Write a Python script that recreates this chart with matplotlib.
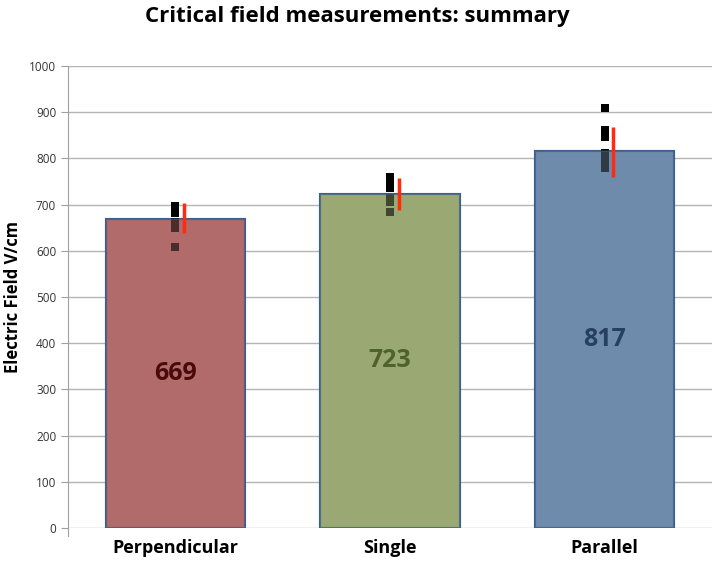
import numpy as np
import matplotlib.pyplot as plt

# values
categories = ["Perpendicular", "Single", "Parallel"]
means = [669, 723, 817]
err_lo = [638, 688, 760]
err_hi = [703, 758, 868]
pts_perp = [697, 682, 662, 649, 608]
pts_single = [760, 749, 736, 714, 706, 684]
pts_parallel = [909, 861, 846, 812, 801, 790, 779]
points = [pts_perp, pts_single, pts_parallel]

bar_colors = ["#B06B6A", "#9AA973", "#6E8BAB"]
label_colors = ["#4A0A0A", "#4F6228", "#254061"]
edge_color = "#3C5E8C"

plt.rcParams['font.family'] = ['Open Sans', 'DejaVu Sans']

fig = plt.figure(figsize=(7.14, 5.75), dpi=100)
ax = fig.add_axes([68 / 714, 47 / 575, 644 / 714, 462 / 575])

x = np.arange(len(categories))
ax.bar(x, means, width=0.65, color=bar_colors, edgecolor=edge_color, linewidth=1.5, zorder=2)

# scattered measurements (black), then a translucent copy of the bars so points inside look tinted
for i, p in enumerate(points):
    ax.scatter(np.full(len(p), x[i]), p, marker='s', s=26, color='black', zorder=3, linewidths=0)
ax.bar(x, means, width=0.65, color=bar_colors, alpha=0.42, edgecolor=edge_color, linewidth=1.5, zorder=4)

# red spread bars just right of the points
for i in range(len(categories)):
    ax.plot([x[i] + 0.04, x[i] + 0.04], [err_lo[i], err_hi[i]], color='#FF2A10', lw=2.5,
            solid_capstyle='butt', zorder=5)

for i, m in enumerate(means):
    ax.text(x[i], m / 2, str(m), ha='center', va='center', fontsize=18, fontweight='bold',
            color=label_colors[i], zorder=6)

ax.set_xlim(-0.5, 2.5)
ax.set_ylim(0, 1000)
ax.set_yticks(range(0, 1001, 100))
ax.yaxis.grid(True, color='#B4B4B4', lw=1)
ax.set_axisbelow(True)
for s in ['top', 'right', 'bottom']:
    ax.spines[s].set_visible(False)
ax.spines['left'].set_color('#A0A0A0')
ax.spines['left'].set_bounds(-18, 1000)
ax.tick_params(axis='y', direction='out', length=5, color='#A0A0A0', labelsize=8.5, labelcolor='#333333')
ax.set_xticks(x)
ax.set_xticklabels(categories, fontsize=13, fontweight='bold')
ax.tick_params(axis='x', length=0, pad=8)

ax.set_ylabel("Electric Field V/cm", fontsize=12, fontweight='bold')
ax.yaxis.set_label_coords(-0.072, 0.5)
fig.suptitle("Critical field measurements: summary", fontsize=16, fontweight='bold', y=0.99)

plt.savefig("out.png", dpi=100)
